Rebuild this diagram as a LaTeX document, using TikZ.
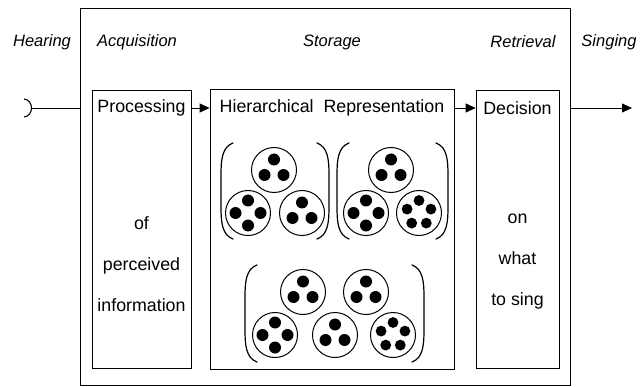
\documentclass[tikz,border=0pt]{standalone}
\usepackage{fontspec}
\setmainfont{Liberation Sans}
\usetikzlibrary{arrows.meta}

\tikzset{
  box/.style={draw, line width=0.8pt, inner sep=0pt},
  txt/.style={font=\fontsize{17.8}{41}\selectfont, align=center, inner sep=1pt},
  stage/.style={font=\fontsize{16.5}{20}\selectfont\itshape, inner sep=1pt},
  ring/.style={draw, line width=1pt},
  paren/.style={line width=1.2pt, line cap=round},
  flow/.style={line width=0.8pt, -{Triangle[length=10pt,width=9pt]}}
}

\begin{document}
\begin{tikzpicture}[x=1pt,y=-1pt]
  \useasboundingbox (0,0) rectangle (644,387);
  \node[box, minimum width=490pt, minimum height=377pt] (frame) at (325.5,196.5) {};
  \node[box, minimum width=99pt, minimum height=278pt] (proc) at (141.5,229) {};
  \node[box, minimum width=244pt, minimum height=280pt] (store) at (332,229) {};
  \node[box, minimum width=83pt, minimum height=278pt] (dec) at (517.5,229) {};

  \node[stage] (hearing) at (42,42) {Hearing};
  \node[stage] (acq) at (137,42) {Acquisition};
  \node[stage] (stor) at (332,42) {Storage};
  \node[stage] (retr) at (523,42) {Retrieval};
  \node[stage] (sing) at (609,42) {Singing};

  \node[txt] (proctext) at (141.5,108) {Processing};
  \node[txt] (hiertext) at (332,108) {Hierarchical\ \ Representation};
  \node[txt] (dectext) at (517.5,108) {Decision};
  \node[txt] (procsub) at (141.5,264) {of\\perceived\\information};
  \node[txt] (decsub) at (517.5,262) {on\\what\\to sing};

  % ear and connectors
  \draw[line width=1.1pt] (24,99) .. controls (34,100) and (34,116) .. (24,117);
  \coordinate (ear) at (32,108);
  \coordinate (out) at (632,108);
  \draw[line width=0.8pt] (ear) -- (ear -| frame.west);
  \draw[flow] (proc.east |- proctext) -- (store.west |- proctext);
  \draw[flow] (store.east |- hiertext) -- (dec.west |- dectext);
  \draw[flow] (frame.east |- dectext) -- (out);

  % brackets
  \draw[paren] (233,143) .. controls (222,147) and (221,160) .. (221,175) -- (221,207) .. controls (221,222) and (222,235) .. (233,239);
  \draw[paren] (317,143) .. controls (328,147) and (329,160) .. (329,175) -- (329,207) .. controls (329,222) and (328,235) .. (317,239);
  \draw[paren] (349,143) .. controls (338,147) and (337,160) .. (337,175) -- (337,207) .. controls (337,222) and (338,235) .. (349,239);
  \draw[paren] (436,143) .. controls (447,147) and (448,160) .. (448,175) -- (448,207) .. controls (448,222) and (447,235) .. (436,239);
  \draw[paren] (257,265) .. controls (246,269) and (245,282) .. (245,297) -- (245,330) .. controls (245,345) and (246,358) .. (257,362);
  \draw[paren] (412,265) .. controls (423,269) and (424,282) .. (424,297) -- (424,330) .. controls (424,345) and (423,358) .. (412,362);

  % rings
  \draw[ring] (274,170) circle (22.5pt);
  \draw[ring] (248,213) circle (22.5pt);
  \draw[ring] (302,213) circle (22.5pt);
  \draw[ring] (391,170) circle (22.5pt);
  \draw[ring] (366,213) circle (22.5pt);
  \draw[ring] (419,213) circle (22.5pt);
  \draw[ring] (303,292) circle (22.5pt);
  \draw[ring] (366,292) circle (22.5pt);
  \draw[ring] (275,335) circle (22.5pt);
  \draw[ring] (335,335) circle (22.5pt);
  \draw[ring] (393,335) circle (22.5pt);

  % dots, upper left group
  \path[fill=black] (274,170-10.5) circle (6pt);
  \path[fill=black] (274-9.5,170+5) circle (6pt);
  \path[fill=black] (274+9.5,170+5) circle (6pt);

  \path[fill=black] (248,213-12.5) circle (6pt);
  \path[fill=black] (248-12.5,213) circle (6pt);
  \path[fill=black] (248+12.5,213) circle (6pt);
  \path[fill=black] (248,213+12.5) circle (6pt);

  \path[fill=black] (302,213-10.5) circle (6pt);
  \path[fill=black] (302-9.5,213+5) circle (6pt);
  \path[fill=black] (302+9.5,213+5) circle (6pt);

  % dots, upper right group
  \path[fill=black] (391,170-10.5) circle (6pt);
  \path[fill=black] (391-9.5,170+5) circle (6pt);
  \path[fill=black] (391+9.5,170+5) circle (6pt);

  \path[fill=black] (366,213-12.5) circle (6pt);
  \path[fill=black] (366-12.5,213) circle (6pt);
  \path[fill=black] (366+12.5,213) circle (6pt);
  \path[fill=black] (366,213+12.5) circle (6pt);

  \path[fill=black] (419,213-12.5) circle (5.4pt);
  \path[fill=black] (419-11.9,213-3.9) circle (5.4pt);
  \path[fill=black] (419+11.9,213-3.9) circle (5.4pt);
  \path[fill=black] (419-7.3,213+10.1) circle (5.4pt);
  \path[fill=black] (419+7.3,213+10.1) circle (5.4pt);

  % dots, lower group
  \path[fill=black] (303,292-10.5) circle (6pt);
  \path[fill=black] (303-9.5,292+5) circle (6pt);
  \path[fill=black] (303+9.5,292+5) circle (6pt);

  \path[fill=black] (366,292-10.5) circle (6pt);
  \path[fill=black] (366-9.5,292+5) circle (6pt);
  \path[fill=black] (366+9.5,292+5) circle (6pt);

  \path[fill=black] (275,335-12.5) circle (6pt);
  \path[fill=black] (275-12.5,335) circle (6pt);
  \path[fill=black] (275+12.5,335) circle (6pt);
  \path[fill=black] (275,335+12.5) circle (6pt);

  \path[fill=black] (335,335-10.5) circle (6pt);
  \path[fill=black] (335-9.5,335+5) circle (6pt);
  \path[fill=black] (335+9.5,335+5) circle (6pt);

  \path[fill=black] (393,335-12.5) circle (5.4pt);
  \path[fill=black] (393-11.9,335-3.9) circle (5.4pt);
  \path[fill=black] (393+11.9,335-3.9) circle (5.4pt);
  \path[fill=black] (393-7.3,335+10.1) circle (5.4pt);
  \path[fill=black] (393+7.3,335+10.1) circle (5.4pt);
\end{tikzpicture}
\end{document}
